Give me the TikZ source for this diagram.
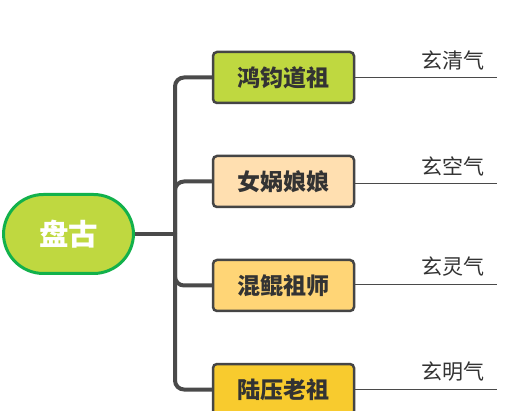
\documentclass[tikz,border=0pt]{standalone}
\usepackage{fontspec}
\setmainfont{Noto Sans CJK SC}
\definecolor{lime}{HTML}{BFD840}
\definecolor{rootborder}{HTML}{12B14B}
\definecolor{boxborder}{HTML}{454545}
\definecolor{linegray}{HTML}{4A4A4A}
\definecolor{textgray}{HTML}{333333}
\definecolor{peach}{HTML}{FFDFB0}
\definecolor{lightorange}{HTML}{FFD576}
\definecolor{gold}{HTML}{F8CB2E}
\begin{document}
\begin{tikzpicture}[x=1pt,y=-1pt,
  rootbox/.style={draw=rootborder, fill=lime, line width=3pt, rounded corners=40pt,
    minimum width=130pt, minimum height=79pt, inner sep=0pt,
    font=\fontsize{29.5}{29.5}\selectfont\bfseries, text=white},
  box/.style={draw=boxborder, line width=2.5pt, rounded corners=4pt,
    minimum width=141pt, minimum height=51pt, inner sep=0pt,
    font=\fontsize{23}{23}\selectfont\bfseries, text=textgray},
  trunk/.style={draw=linegray, line width=4pt, rounded corners=9pt},
  uline/.style={draw=linegray, line width=0.9pt},
  lbl/.style={font=\fontsize{21}{21}\selectfont, text=textgray, inner sep=0pt}
]
\useasboundingbox[fill=white] (0,0) rectangle (511,411);
\coordinate (j) at (175,234);
\node[rootbox] (root) at (68.5,234) {盘古};
\node[box, fill=lime] (b1) at (283.5,77.5) {鸿钧道祖};
\node[box, fill=peach] (b2) at (283.5,181.5) {女娲娘娘};
\node[box, fill=lightorange] (b3) at (283.5,285.5) {混鲲祖师};
\node[box, fill=gold] (b4) at (283.5,389.5) {陆压老祖};
\draw[trunk] (root.east) -- (j);
\foreach \b in {b1,b2,b3,b4}{
  \draw[trunk] (j) |- (\b.west);
}
\foreach \b/\t/\y in {b1/玄清气/77,b2/玄空气/183,b3/玄灵气/284,b4/玄明气/389}{
  \coordinate (e\b) at (497,\y);
  \draw[uline] (\b.east |- e\b) -- (e\b);
  \node[lbl] (l\b) at (453,\y-17) {\t};
}
\end{tikzpicture}
\end{document}
